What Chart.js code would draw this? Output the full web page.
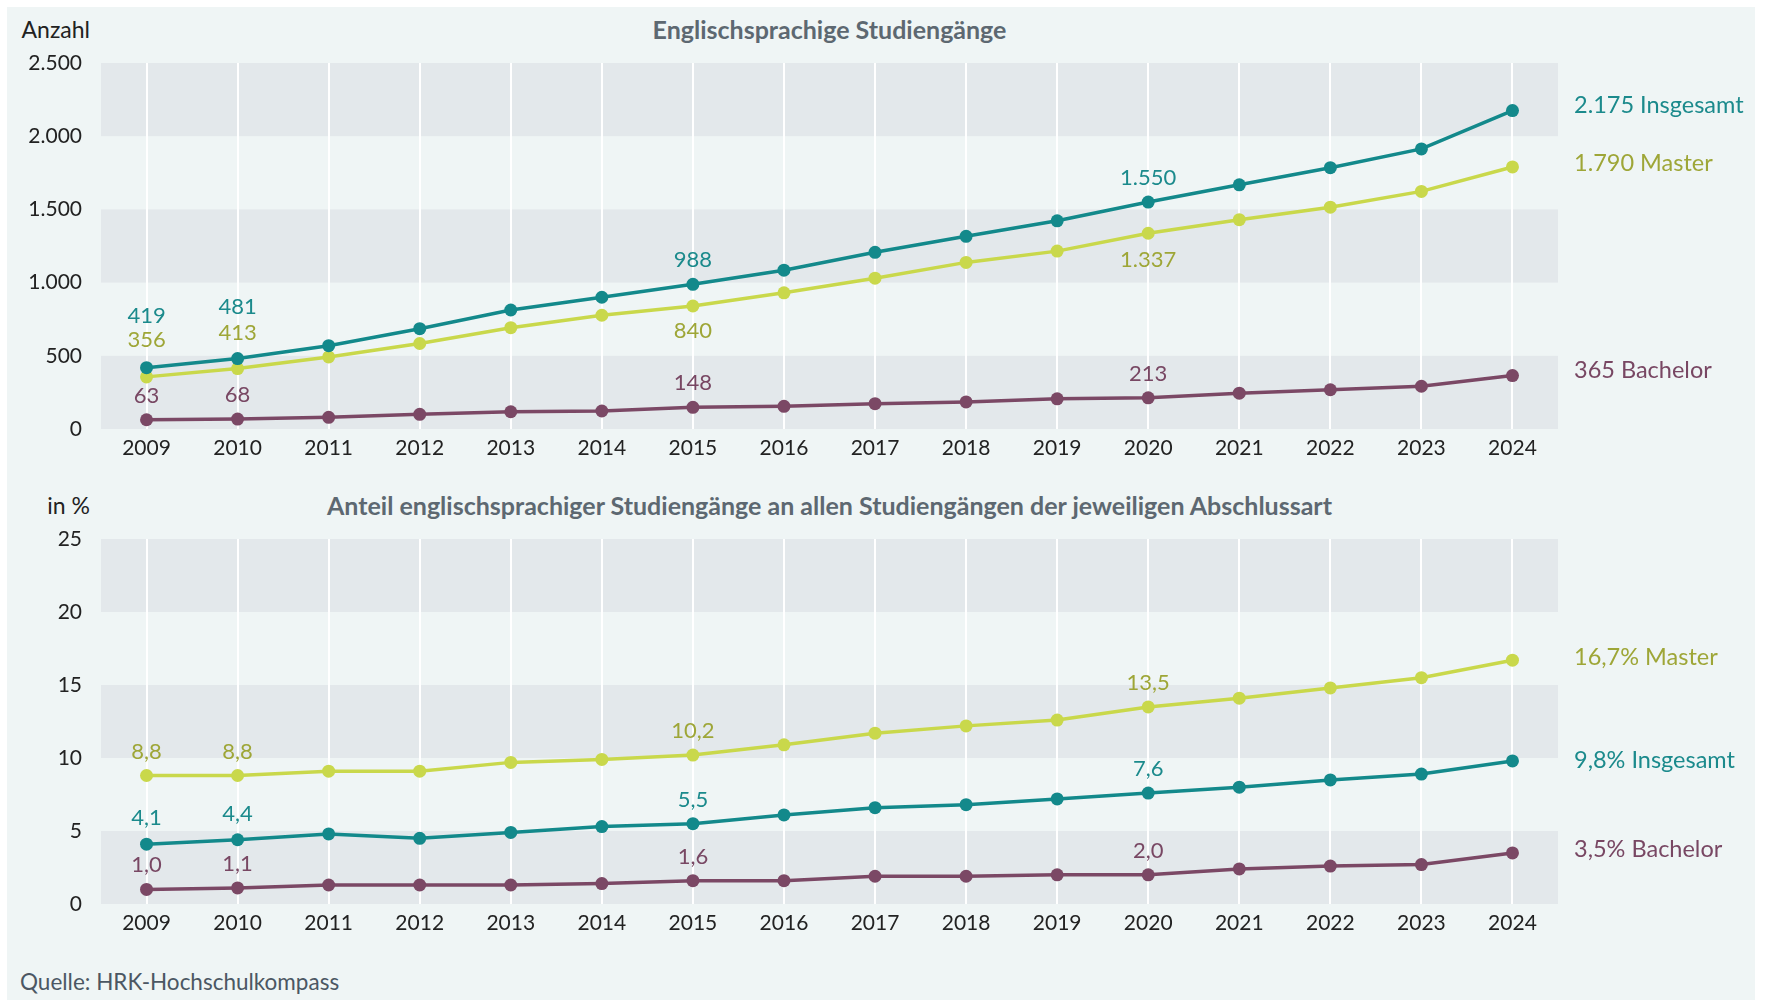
<!DOCTYPE html>
<html lang="de">
<head>
<meta charset="utf-8">
<title>Englischsprachige Studiengänge</title>
<script src="https://cdn.jsdelivr.net/npm/chart.js@4/dist/chart.umd.min.js"></script>
<style>
  html, body { margin: 0; padding: 0; background: #ffffff; }
  body { width: 1765px; height: 1004px; position: relative; overflow: hidden; font-family: Lato, "Noto Sans", sans-serif; }
  #panel { position: absolute; left: 7px; top: 7px; width: 1748px; height: 993px; background: #eff5f5; }
  canvas { position: absolute; left: 0; }
  #topChart { top: 0; }
  #bottomChart { top: 470px; }
  .title { position: absolute; left: 101px; width: 1457px; text-align: center; font-weight: 700;
           color: #5d6871; font-size: 25px; line-height: 30px; }
  .unit { position: absolute; right: 1675px; text-align: right; color: #222; font-size: 23px; line-height: 30px; white-space: nowrap; }
  .source { position: absolute; left: 20px; top: 967px; color: #4b5763; font-size: 22.5px; line-height: 30px; }
</style>
</head>
<body>
<div id="panel"></div>
<div class="unit" style="top:14px">Anzahl</div>
<div class="title" style="top:14px">Englischsprachige Studiengänge</div>
<div class="unit" style="top:490px">in %</div>
<div class="title" style="top:490px">Anteil englischsprachiger Studiengänge an allen Studiengängen der jeweiligen Abschlussart</div>
<div class="source">Quelle: HRK-Hochschulkompass</div>
<canvas id="topChart" width="1765" height="470"></canvas>
<canvas id="bottomChart" width="1765" height="534"></canvas>

<script>
// Jahre
const years = ['2009', '2010', '2011', '2012', '2013', '2014', '2015', '2016',
               '2017', '2018', '2019', '2020', '2021', '2022', '2023', '2024'];

// Anzahl englischsprachiger Studiengänge
const countTotal    = [419, 481, 569, 685, 813, 900, 988, 1085, 1207, 1316, 1422, 1550, 1668, 1785, 1913, 2175];
const countMaster   = [356, 413, 492, 584, 692, 777, 840, 930, 1030, 1138, 1215, 1337, 1430, 1515, 1623, 1790];
const countBachelor = [63, 68, 80, 100, 118, 123, 148, 155, 173, 185, 206, 213, 245, 268, 292, 365];

// Anteil an allen Studiengängen der jeweiligen Abschlussart, in %
const shareMaster   = [8.8, 8.8, 9.1, 9.1, 9.7, 9.9, 10.2, 10.9, 11.7, 12.2, 12.6, 13.5, 14.1, 14.8, 15.5, 16.7];
const shareTotal    = [4.1, 4.4, 4.8, 4.5, 4.9, 5.3, 5.5, 6.1, 6.6, 6.8, 7.2, 7.6, 8.0, 8.5, 8.9, 9.8];
const shareBachelor = [1.0, 1.1, 1.3, 1.3, 1.3, 1.4, 1.6, 1.6, 1.9, 1.9, 2.0, 2.0, 2.4, 2.6, 2.7, 3.5];

// Jahre, deren Werte beschriftet werden
const labeledYears = ['2009', '2010', '2015', '2020'];

const FONT = 'Lato, "Noto Sans", sans-serif';
const TEAL = '#13898b', LIME = '#c9d84b', PLUM = '#7b4865';
const TEAL_TEXT = '#1b8a8c', LIME_TEXT = '#9ea637', PLUM_TEXT = '#784763';

function fmtInt(v) {
  return String(Math.round(v)).replace(/\B(?=(\d{3})+(?!\d))/g, '.');
}
function fmtDec(v) {
  return v.toFixed(1).replace('.', ',');
}

// alternierende graue Bänder hinter dem Diagramm
const bandPlugin = {
  id: 'bands',
  beforeDraw(chart) {
    const { ctx, chartArea: a, scales: { y } } = chart;
    const vals = y.ticks.map(t => t.value);
    ctx.save();
    ctx.fillStyle = '#e3e8eb';
    for (let i = 0; i < vals.length - 1; i += 2) {
      const y0 = y.getPixelForValue(vals[i]);
      const y1 = y.getPixelForValue(vals[i + 1]);
      ctx.fillRect(a.left, y1, a.right - a.left, y0 - y1);
    }
    ctx.restore();
  }
};

// Wertebeschriftungen an den Punkten und am Linienende
const labelPlugin = {
  id: 'valueLabels',
  afterDatasetsDraw(chart, args, opts) {
    const { ctx, chartArea: a } = chart;
    ctx.save();
    ctx.textBaseline = 'middle';
    chart.data.datasets.forEach((ds, di) => {
      const meta = chart.getDatasetMeta(di);
      ctx.fillStyle = ds.textColor;
      ctx.font = '22px ' + FONT;
      ctx.textAlign = 'center';
      labeledYears.forEach(yr => {
        const i = years.indexOf(yr);
        const pt = meta.data[i];
        const dy = (ds.labelShift && ds.labelShift[yr] !== undefined) ? ds.labelShift[yr] : -24;
        ctx.fillText(opts.format(ds.data[i]), pt.x, pt.y + dy);
      });
      const last = meta.data[meta.data.length - 1];
      ctx.font = '23.5px ' + FONT;
      ctx.textAlign = 'left';
      ctx.fillText(opts.endText(ds), a.right + 16, last.y + ds.endShift);
    });
    ctx.restore();
  }
};

function lineSet(label, data, color, textColor, labelShift, endShift) {
  return {
    label, data, textColor, labelShift, endShift,
    borderColor: color,
    backgroundColor: color,
    borderWidth: 3.5,
    pointRadius: 6.5,
    pointHoverRadius: 6.5,
    pointBorderWidth: 0,
    pointBackgroundColor: color,
    tension: 0
  };
}

function makeOptions(yMax, yStep, tickFmt, padTop, padBottom, format, endText) {
  return {
    responsive: false,
    animation: false,
    layout: { padding: { left: 0, right: 207, top: padTop, bottom: padBottom } },
    plugins: {
      legend: { display: false },
      tooltip: { enabled: false },
      valueLabels: { format, endText }
    },
    scales: {
      x: {
        offset: true,
        grid: { display: true, color: '#ffffff', lineWidth: 2, drawTicks: false, offset: false },
        border: { display: false },
        ticks: { color: '#222222', font: { family: FONT, size: 21 }, padding: 7, maxRotation: 0, autoSkip: false },
        afterFit: s => { s.height = 40; }
      },
      y: {
        min: 0,
        max: yMax,
        grid: { display: false },
        border: { display: false },
        ticks: { stepSize: yStep, color: '#222222', font: { family: FONT, size: 21 }, padding: 11, callback: tickFmt },
        afterFit: s => { s.width = 101; }
      }
    }
  };
}

new Chart(document.getElementById('topChart'), {
  type: 'line',
  data: {
    labels: years,
    datasets: [
      lineSet('Insgesamt', countTotal, TEAL, TEAL_TEXT, { '2009': -52, '2010': -52 }, -5),
      lineSet('Master', countMaster, LIME, LIME_TEXT, { '2009': -37, '2010': -36, '2015': 25, '2020': 27 }, -4),
      lineSet('Bachelor', countBachelor, PLUM, PLUM_TEXT, {}, -5)
    ]
  },
  options: makeOptions(2500, 500, v => fmtInt(v), 63, 1, fmtInt,
    ds => fmtInt(ds.data[ds.data.length - 1]) + ' ' + ds.label),
  plugins: [bandPlugin, labelPlugin]
});

new Chart(document.getElementById('bottomChart'), {
  type: 'line',
  data: {
    labels: years,
    datasets: [
      lineSet('Master', shareMaster, LIME, LIME_TEXT, {}, -3),
      lineSet('Insgesamt', shareTotal, TEAL, TEAL_TEXT, { '2009': -26, '2010': -26 }, 0),
      lineSet('Bachelor', shareBachelor, PLUM, PLUM_TEXT, {}, -3)
    ]
  },
  options: makeOptions(25, 5, v => String(v), 69, 60, fmtDec,
    ds => fmtDec(ds.data[ds.data.length - 1]) + '% ' + ds.label),
  plugins: [bandPlugin, labelPlugin]
});
</script>
</body>
</html>
